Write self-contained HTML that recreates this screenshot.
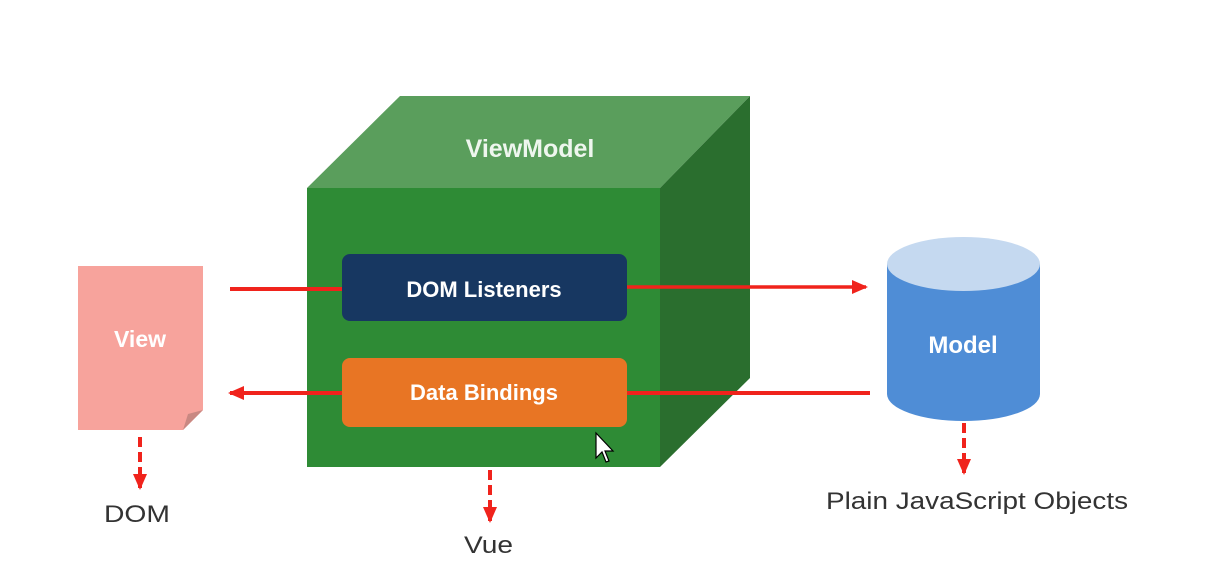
<!DOCTYPE html>
<html><head><meta charset="utf-8"><style>
html,body{margin:0;padding:0;background:#fff;width:1220px;height:588px;overflow:hidden}
text{font-family:"Liberation Sans",sans-serif}
</style></head><body>
<svg width="1220" height="588" viewBox="0 0 1220 588" xmlns="http://www.w3.org/2000/svg">
<defs>
<marker id="ah" markerWidth="16" markerHeight="16" refX="14" refY="8" orient="auto" markerUnits="userSpaceOnUse" viewBox="0 0 16 16"><path d="M0,1 L16,8 L0,15 z" fill="#f0231c"/></marker>
</defs>
<polygon points="307,188 400,96 750,96 660,188" fill="#5a9e5c"/>
<polygon points="660,188 750,96 750,378 660,467" fill="#2a6e2e"/>
<rect x="307" y="188" width="353" height="279" fill="#2e8b35"/>
<text x="530" y="157" font-size="25" font-weight="bold" fill="#eef6ee" text-anchor="middle">ViewModel</text>
<rect x="342" y="254" width="285" height="67" rx="8" fill="#173761"/>
<text x="484" y="297" font-size="22" font-weight="bold" fill="#fff" text-anchor="middle">DOM Listeners</text>
<rect x="342" y="358" width="285" height="69" rx="8" fill="#e87524"/>
<text x="484" y="400" font-size="22" font-weight="bold" fill="#fff" text-anchor="middle">Data Bindings</text>
<polygon points="78,266 203,266 203,410 183,430 78,430" fill="#f7a39c"/>
<polygon points="183,430 203,410 188,414" fill="#c98882"/>
<text x="140" y="347" font-size="23" font-weight="bold" fill="#fff" text-anchor="middle">View</text>
<path d="M887,264 L887,394 A76.5,27 0 0 0 1040,394 L1040,264 Z" fill="#4f8dd6"/>
<ellipse cx="963.5" cy="264" rx="76.5" ry="27" fill="#c5d9f0"/>
<text x="963" y="353" font-size="24" font-weight="bold" fill="#fff" text-anchor="middle">Model</text>
<g stroke="#f0231c" stroke-width="4" fill="none">
<line x1="230" y1="289" x2="342" y2="289"/>
<line x1="627" y1="287" x2="866" y2="287" marker-end="url(#ah)" stroke-width="3.5"/>
<line x1="870" y1="393" x2="627" y2="393"/>
<line x1="342" y1="393" x2="230" y2="393" marker-end="url(#ah)"/>
<line x1="140" y1="437" x2="140" y2="488" stroke-dasharray="10,5" marker-end="url(#ah)"/>
<line x1="490" y1="470" x2="490" y2="521" stroke-dasharray="10,5" marker-end="url(#ah)"/>
<line x1="964" y1="423" x2="964" y2="473" stroke-dasharray="10,5" marker-end="url(#ah)"/>
</g>
<text x="104" y="522" font-size="24" fill="#333" textLength="66" lengthAdjust="spacingAndGlyphs">DOM</text>
<text x="464" y="553" font-size="24" fill="#333" textLength="49" lengthAdjust="spacingAndGlyphs">Vue</text>
<text x="826" y="509" font-size="24" fill="#333" textLength="302" lengthAdjust="spacingAndGlyphs">Plain JavaScript Objects</text>
<path d="M596,433 L596,458 L602,452 L606,462 L609,461 L605,451 L613,451 Z" fill="#fff" stroke="#000" stroke-width="1.2"/>
</svg>
</body></html>
